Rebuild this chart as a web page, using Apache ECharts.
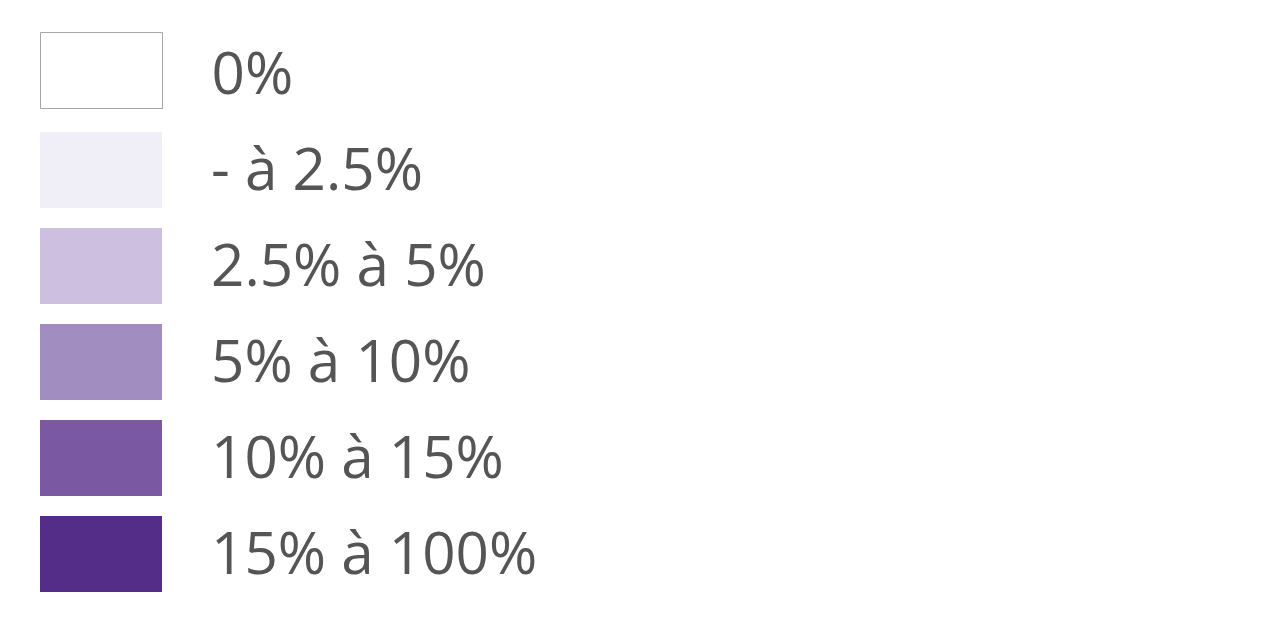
<!DOCTYPE html>
<html><head><meta charset="utf-8">
<script src="https://cdn.jsdelivr.net/npm/echarts@6/dist/echarts.min.js"></script>
<style>html,body{margin:0;padding:0;background:#fff}#c{width:1275px;height:623px}</style>
</head><body><div id="c"></div>
<script>
const categories = ['0%', '- à 2.5%', '2.5% à 5%', '5% à 10%', '10% à 15%', '15% à 100%'];
const colors = ['#ffffff', '#f0eef6', '#cdbfdf', '#a28dc1', '#7a59a2', '#532d88'];
const borders = ['#a6a6a6', null, null, null, null, null];

const chart = echarts.init(document.getElementById('c'), null, {renderer: 'canvas'});
const series = categories.map((name, i) => ({
  name, type: 'bar', data: [],
  itemStyle: {color: colors[i], borderColor: borders[i] || colors[i], borderWidth: borders[i] ? 1 : 0}
}));
const font = {fontFamily: 'Open Sans', fontSize: 58.4, color: '#555555'};
const itemOf = (name, i) => ({
  name,
  itemStyle: {color: colors[i], borderColor: borders[i] || colors[i], borderWidth: borders[i] ? 1 : 0}
});
const legendBase = (top, names, padTop, lh) => ({
  orient: 'vertical', left: 40, top, padding: 0, itemWidth: 122, itemHeight: 76, itemGap: 20,
  selectedMode: false, icon: 'rect',
  formatter: name => '{t|' + name + '}',
  data: names.map(n => itemOf(n, categories.indexOf(n))),
  textStyle: Object.assign({}, font, {
    padding: [padTop, 0, 0, 44],
    rich: {t: Object.assign({}, font, {lineHeight: lh})}
  })
});
chart.setOption({
  animation: false,
  xAxis: {show: false, type: 'category', data: []},
  yAxis: {show: false},
  grid: {show: false},
  legend: [
    legendBase(32, categories.slice(0, 1), 13, 58),
    legendBase(132, categories.slice(1), 6, 60)
  ],
  series
});
</script></body></html>
